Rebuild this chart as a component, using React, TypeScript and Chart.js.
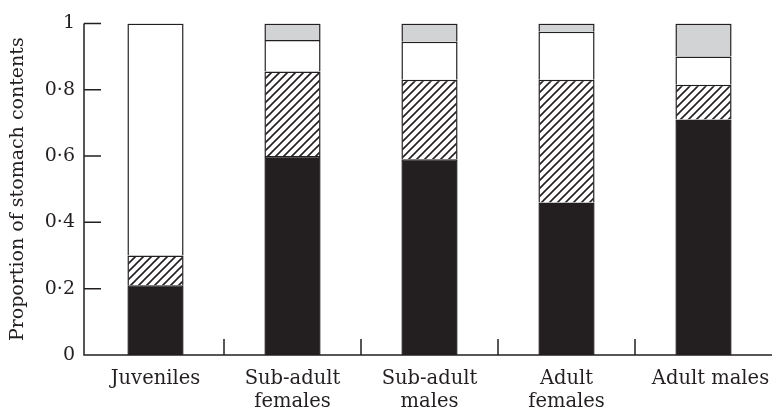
import { useEffect, useRef } from "react";
import { Chart, registerables } from "chart.js";

Chart.register(...registerables);

// Diet composition per age/sex class (proportions, stacked bottom to top)
const groups: (string | string[])[] = [
  "Juveniles",
  ["Sub-adult", "females"],
  ["Sub-adult", "males"],
  ["Adult", "females"],
  "Adult males",
];
const solidShare = [0.21, 0.6, 0.59, 0.46, 0.71];
const hatchedShare = [0.09, 0.255, 0.24, 0.37, 0.105];
const openShare = [0.7, 0.095, 0.115, 0.145, 0.085];
const greyShare = [0, 0.05, 0.055, 0.025, 0.1];

const yTickLabels = ["0", "0·2", "0·4", "0·6", "0·8", "1"];
const yTitle = "Proportion of stomach contents";

const INK = "#231f20";
const GREY = "#d1d3d4";
const FONT = "'DejaVu Serif', serif";

function makeHatch(): CanvasPattern | string {
  const c = document.createElement("canvas");
  c.width = 8;
  c.height = 8;
  const g = c.getContext("2d");
  if (!g) return "#fff";
  g.fillStyle = "#fff";
  g.fillRect(0, 0, 8, 8);
  g.strokeStyle = INK;
  g.lineWidth = 1.6;
  g.beginPath();
  g.moveTo(-2, 10);
  g.lineTo(10, -2);
  g.moveTo(-2, 2);
  g.lineTo(2, -2);
  g.moveTo(6, 10);
  g.lineTo(10, 6);
  g.stroke();
  return g.createPattern(c, "repeat") || "#fff";
}

// Axis lines with inward tick marks and group separators on the baseline
const framePlugin = {
  id: "frame",
  beforeDraw(chart: any) {
    // the last category label sits a little right of its bar
    const x = chart.scales.x;
    const items = x.getLabelItems(chart.chartArea);
    const last = items[items.length - 1];
    if (last) last.options.translation[0] = x.getPixelForValue(groups.length - 1) + 7;
  },
  afterDatasetsDraw(chart: any) {
    const { ctx, chartArea, scales } = chart;
    const x = scales.x;
    const y = scales.y;
    const axisX = chartArea.left - 3;
    const base = y.getPixelForValue(0);
    const top = y.getPixelForValue(1);
    ctx.save();
    ctx.strokeStyle = INK;
    ctx.lineWidth = 1.5;
    ctx.beginPath();
    ctx.moveTo(axisX, top);
    ctx.lineTo(axisX, base);
    ctx.lineTo(chartArea.right, base);
    for (const t of y.ticks) {
      const py = y.getPixelForValue(t.value);
      ctx.moveTo(axisX, py);
      ctx.lineTo(axisX + 17, py);
    }
    for (let i = 0; i < groups.length - 1; i++) {
      const px = (x.getPixelForValue(i) + x.getPixelForValue(i + 1)) / 2;
      ctx.moveTo(px, base);
      ctx.lineTo(px, base - 16);
    }
    ctx.stroke();
    ctx.restore();
  },
};

export default function App() {
  const ref = useRef<HTMLCanvasElement>(null);

  useEffect(() => {
    if (!ref.current) return;
    Chart.defaults.font.family = FONT;
    const common = {
      borderColor: INK,
      borderWidth: 1.5,
      borderSkipped: "start" as const,
      barPercentage: 0.41,
      categoryPercentage: 1,
    };
    const chart = new Chart(ref.current, {
      type: "bar",
      data: {
        labels: groups,
        datasets: [
          { label: "solid", data: solidShare, backgroundColor: INK, ...common },
          { label: "hatched", data: hatchedShare, backgroundColor: makeHatch() as any, ...common },
          { label: "open", data: openShare, backgroundColor: "#ffffff", ...common },
          { label: "grey", data: greyShare, backgroundColor: GREY, ...common },
        ],
      },
      options: {
        animation: false,
        responsive: false,
        devicePixelRatio: 1,
        layout: { padding: { top: 20, right: 0, left: 0, bottom: 0 } },
        plugins: { legend: { display: false }, tooltip: { enabled: false } },
        scales: {
          x: {
            stacked: true,
            grid: { display: false, drawTicks: false },
            border: { display: false },
            ticks: {
              padding: 12,
              color: INK,
              font: { size: 19.5, family: FONT },
              maxRotation: 0,
              autoSkip: false,
            },
            afterFit: (s: any) => {
              s.height = 59;
              s.paddingLeft = 0;
              s.paddingRight = 0;
            },
          },
          y: {
            stacked: true,
            min: 0,
            max: 1,
            ticks: {
              stepSize: 0.2,
              padding: 12,
              color: INK,
              font: { size: 19, family: FONT },
              callback: (_v: any, i: number) => yTickLabels[i],
            },
            grid: { display: false, drawTicks: false },
            border: { display: false },
            title: {
              display: true,
              text: yTitle,
              color: INK,
              font: { size: 19, family: FONT },
              padding: { top: 7, bottom: 0 },
            },
            afterFit: (s: any) => {
              s.width = 87;
            },
          },
        },
      },
      plugins: [framePlugin],
    });
    return () => chart.destroy();
  }, []);

  return (
    <div style={{ position: "fixed", left: 0, top: 0, width: 772, height: 414, background: "#fff" }}>
      <canvas ref={ref} width={772} height={414} style={{ display: "block" }} />
    </div>
  );
}
